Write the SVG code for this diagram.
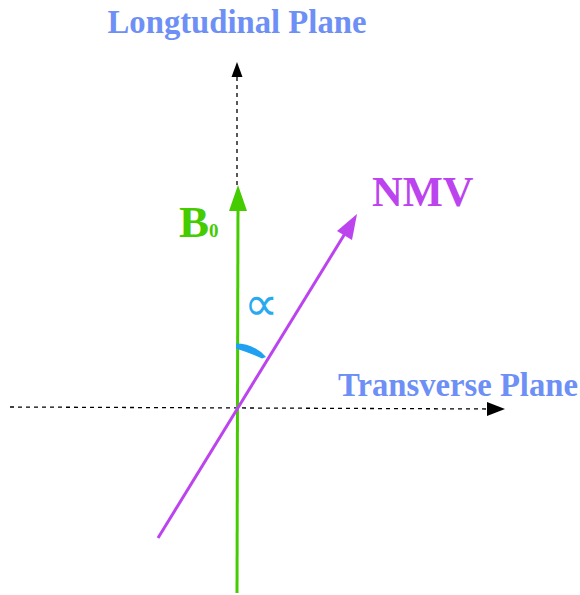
<svg xmlns="http://www.w3.org/2000/svg" width="580" height="595" viewBox="0 0 580 595">
<style>
.lbl{font-family:"Liberation Serif","Times New Roman",serif;font-weight:bold}
.plane{fill:#6d8ff6;font-size:32.7px}
.dash{stroke:#000;stroke-width:1.3;stroke-dasharray:4,4;fill:none}
</style>
<rect width="580" height="595" fill="#fff"/>
<g id="connectors">
<line class="dash" x1="237" y1="185" x2="237" y2="70"/>
<path d="M237,62 L242.5,77 L231.5,77 Z" fill="#000"/>
<line class="dash" x1="10" y1="407" x2="490" y2="409"/>
<path d="M505,409 L487,402 L487,416 Z" fill="#000"/>
</g>
<g id="b0">
<line x1="237" y1="593" x2="238" y2="205" stroke="#44cc00" stroke-width="3"/>
<path d="M238,185 L247,211 L229,211 Z" fill="#44cc00"/>
<text class="lbl" x="179" y="237" font-size="45" fill="#44cc00">B<tspan font-size="19">0</tspan></text>
</g>
<g id="nmv">
<line x1="158" y1="538" x2="349" y2="227" stroke="#bb44ee" stroke-width="3"/>
<path d="M357,214 L352,240 L337,231 Z" fill="#bb44ee"/>
<text class="lbl" x="372" y="206" font-size="42.5" fill="#bb44ee">NMV</text>
</g>
<g id="angle">
<path d="M236,343.5 Q254,343.5 266,357 L262,358.5 Q250,353 236,348.5 Z" fill="#1fa0f0"/>
<text x="244" y="320" font-family="DejaVu Sans,sans-serif" font-size="48" fill="#29a9f0">∝</text>
</g>
<g id="longitudinal">
<text class="lbl plane" x="237" y="33" text-anchor="middle">Longtudinal Plane</text>
</g>
<g id="transverse">
<text class="lbl plane" x="338" y="396">Transverse Plane</text>
</g>
</svg>
